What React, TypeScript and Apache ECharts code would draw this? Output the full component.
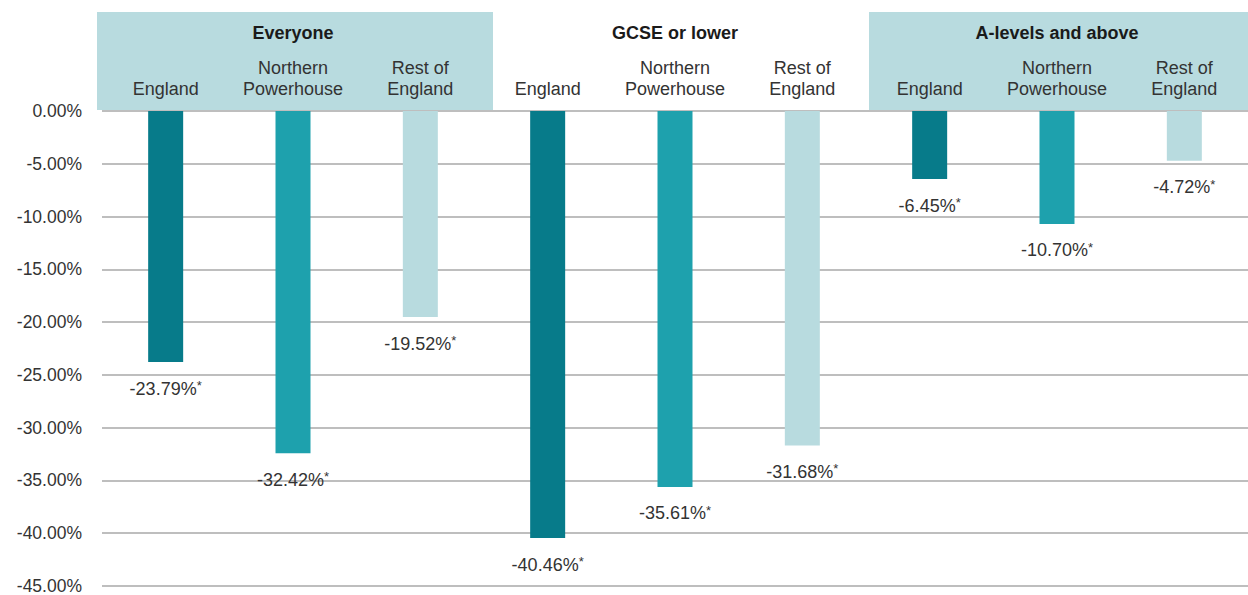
import React, { useEffect, useRef } from "react";
import * as echarts from "echarts";

const categories = [
  "England", "Northern\nPowerhouse", "Rest of\nEngland",
  "England", "Northern\nPowerhouse", "Rest of\nEngland",
  "England", "Northern\nPowerhouse", "Rest of\nEngland",
];
const values = [-23.79, -32.42, -19.52, -40.46, -35.61, -31.68, -6.45, -10.7, -4.72];
const regionColors = ["#077B8A", "#1EA1AD", "#B8DBDF"];
const groups = ["Everyone", "GCSE or lower", "A-levels and above"];
const groupShaded = [true, false, true];
const yMin = -45;
const yMax = 0;
const yStep = 5;

const FONT = "'Liberation Sans', Arial, sans-serif";

export default function App() {
  const ref = useRef<HTMLDivElement>(null);
  useEffect(() => {
    if (!ref.current) return;
    const chart = echarts.init(ref.current, null, { renderer: "svg" });
    const option: any = {
      animation: false,
      grid: { left: 102, right: 0, top: 111, bottom: 9, containLabel: false },
      xAxis: {
        type: "category",
        position: "top",
        data: categories,
        axisLine: { show: false },
        axisTick: { show: false },
        axisLabel: {
          interval: 0,
          margin: 12,
          fontSize: 18,
          lineHeight: 21,
          color: "#333",
          fontFamily: FONT,
        },
      },
      yAxis: {
        type: "value",
        min: yMin,
        max: yMax,
        interval: yStep,
        axisLine: { show: false },
        axisTick: { show: false },
        axisLabel: {
          margin: 20,
          fontSize: 17.5,
          lineHeight: 17.5,
          color: "#333",
          fontFamily: FONT,
          formatter: (v: number) => v.toFixed(2) + "%",
        },
        splitLine: { lineStyle: { color: "#a9a9a9", width: 1.5 } },
      },
      series: [
        {
          type: "bar",
          barWidth: 35,
          data: values.map((v, i) => ({
            value: v,
            itemStyle: { color: regionColors[i % 3] },
          })),
          label: {
            show: true,
            position: "bottom",
            distance: 17,
            fontSize: 18,
            color: "#333",
            fontFamily: FONT,
            formatter: (p: any) => "{a|" + Number(p.value).toFixed(2) + "%}{b|*}",
            rich: {
              a: { fontSize: 18, color: "#333", fontFamily: FONT },
              b: { fontSize: 13, color: "#333", fontFamily: FONT, padding: [0, 0, 6, 0] },
            },
          },
        },
      ],
    };
    chart.setOption(option);

    const centers = categories.map((_, i) => chart.convertToPixel({ xAxisIndex: 0 }, i) as number);
    const band = centers[1] - centers[0];
    const top0 = chart.convertToPixel({ yAxisIndex: 0 }, yMax) as number;
    const graphics: any[] = [];
    groups.forEach((g, gi) => {
      const x0 = centers[gi * 3] - band / 2;
      const x1 = centers[gi * 3 + 2] + band / 2;
      if (groupShaded[gi]) {
        const left = gi === 0 ? 97 : x0 + 3;
        const right = gi === 2 ? 1248 : x1 + 9;
        graphics.push({
          type: "rect",
          z: -10,
          shape: { x: left, y: 12, width: right - left, height: top0 - 12 - 1 },
          style: { fill: "#B8DBDF" },
        });
      }
      graphics.push({
        type: "text",
        z: 10,
        x: (x0 + x1) / 2,
        y: 33,
        style: {
          text: g,
          fill: "#1a1a1a",
          font: `bold 18px ${FONT}`,
          textAlign: "center",
          textVerticalAlign: "middle",
        },
      });
    });
    chart.setOption({ graphic: graphics });

    return () => chart.dispose();
  }, []);
  return (
    <div
      ref={ref}
      style={{ position: "fixed", left: 0, top: 0, width: 1248, height: 595, background: "#fff" }}
    />
  );
}
